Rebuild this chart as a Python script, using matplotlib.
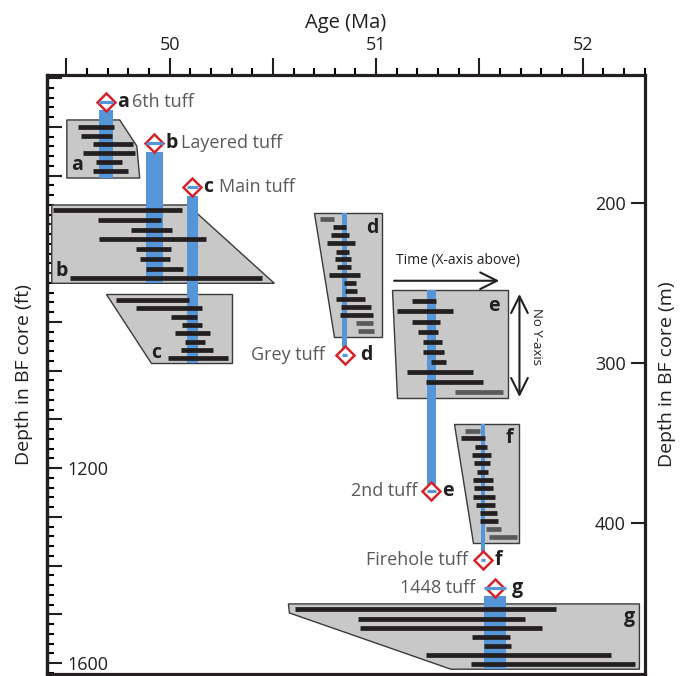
import matplotlib
matplotlib.use('Agg')
import matplotlib.pyplot as plt
import numpy as np
from matplotlib.patches import Polygon
from matplotlib.ticker import MultipleLocator, FuncFormatter

plt.rcParams['font.family'] = ['Open Sans', 'DejaVu Sans']

# ---------------- data ----------------
tuff_ids = ['a', 'b', 'c', 'd', 'e', 'f', 'g']
tuff_names = ['6th tuff', 'Layered tuff', 'Main tuff', 'Grey tuff', '2nd tuff', 'Firehole tuff', '1448 tuff']
tuff_age = [49.691, 49.925, 50.109, 50.847, 51.268, 51.517, 51.575]     # Ma
tuff_err = [0.034, 0.041, 0.027, 0.012, 0.022, 0.010, 0.053]            # Ma
tuff_depth = [136.9, 162.5, 190.0, 295.0, 380.0, 423.1, 440.6]          # m
col_top = [141.9, 168.1, 195.6, 206.1, 254.4, 338.1, 445.6]             # m
col_bottom = [184.4, 250.2, 299.8, 295.0, 380.0, 423.1, 491.4]          # m

box_a_age = [49.502, 49.758, 49.841, 49.855, 49.502]
box_a_depth = [148.1, 148.1, 164.4, 184.4, 184.4]
box_b_age = [49.429, 50.088, 50.507, 49.429]
box_b_depth = [201.25, 201.25, 250.2, 250.2]
box_c_age = [49.694, 50.303, 50.303, 49.912]
box_c_depth = [257.1, 257.1, 299.8, 299.8]
box_d_age = [50.700, 51.028, 51.028, 50.797]
box_d_depth = [206.1, 206.1, 283.9, 283.9]
box_e_age = [51.079, 51.639, 51.639, 51.101]
box_e_depth = [254.4, 254.4, 322.1, 322.1]
box_f_age = [51.377, 51.691, 51.691, 51.470]
box_f_depth = [338.1, 338.1, 412.7, 412.7]
box_g_age = [50.575, 52.275, 52.275, 51.362, 50.580]
box_g_depth = [450.6, 450.6, 491.4, 491.4, 456.25]

bars_a_depth = [152.3, 157.9, 163.3, 168.9, 174.6, 180.0]
bars_a_lo = [49.557, 49.569, 49.627, 49.578, 49.643, 49.629]
bars_a_hi = [49.729, 49.723, 49.823, 49.834, 49.771, 49.799]
bars_a_gray = [0, 0, 0, 0, 0, 0]

bars_b_depth = [204.4, 210.6, 216.7, 222.7, 228.9, 235.0, 241.1, 247.1]
bars_b_lo = [49.433, 49.651, 49.815, 49.658, 49.839, 49.858, 49.884, 49.517]
bars_b_hi = [50.061, 49.957, 50.013, 50.174, 50.005, 50.000, 50.064, 50.446]
bars_b_gray = [0, 0, 0, 0, 0, 0, 0, 0]

bars_c_depth = [260.6, 265.8, 271.1, 276.3, 281.4, 286.7, 291.7, 296.7]
bars_c_lo = [49.739, 49.839, 50.008, 50.059, 50.024, 50.072, 50.057, 49.992]
bars_c_hi = [50.093, 50.155, 50.134, 50.158, 50.197, 50.171, 50.211, 50.282]
bars_c_gray = [0, 0, 0, 0, 0, 0, 0, 0]

bars_d_depth = [210.2, 214.8, 219.8, 225.2, 230.4, 235.2, 240.2, 245.2, 250.2, 255.0,
                260.2, 265.2, 270.2, 275.2, 280.2]
bars_d_lo = [50.728, 50.789, 50.779, 50.762, 50.805, 50.802, 50.808, 50.770, 50.842, 50.850,
             50.805, 50.829, 50.825, 50.902, 50.914]
bars_d_hi = [50.797, 50.853, 50.869, 50.899, 50.870, 50.878, 50.878, 50.920, 50.902, 50.905,
             50.947, 50.974, 50.986, 50.986, 50.990]
bars_d_gray = [1, 0, 0, 0, 0, 0, 0, 0, 0, 0, 0, 0, 0, 1, 1]

bars_e_depth = [261.25, 267.5, 274.2, 280.4, 286.7, 292.9, 299.2, 305.4, 311.7, 317.9]
bars_e_lo = [51.175, 51.103, 51.175, 51.204, 51.227, 51.227, 51.264, 51.148, 51.240, 51.380]
bars_e_hi = [51.288, 51.372, 51.308, 51.301, 51.320, 51.329, 51.340, 51.470, 51.517, 51.614]
bars_e_gray = [0, 0, 0, 0, 0, 0, 0, 0, 0, 1]

bars_f_depth = [342.3, 347.1, 352.5, 357.3, 362.5, 367.9, 373.3, 378.3, 383.6, 388.6,
                393.75, 398.75, 403.9, 408.9]
bars_f_lo = [51.430, 51.412, 51.477, 51.462, 51.473, 51.486, 51.469, 51.472, 51.469, 51.483,
             51.502, 51.502, 51.530, 51.546]
bars_f_hi = [51.502, 51.525, 51.538, 51.557, 51.551, 51.541, 51.567, 51.567, 51.575, 51.575,
             51.586, 51.591, 51.605, 51.680]
bars_f_gray = [1, 0, 0, 0, 0, 0, 0, 0, 0, 0, 0, 0, 1, 1]

bars_g_depth = [453.9, 459.8, 465.4, 471.1, 476.7, 482.3, 487.9]
bars_g_lo = [50.609, 50.914, 50.923, 51.462, 51.520, 51.243, 51.457]
bars_g_hi = [51.871, 51.723, 51.803, 51.647, 51.651, 52.139, 52.255]
bars_g_gray = [0, 0, 0, 0, 0, 0, 0]

ft_labels = [1200, 1600]
m_ticks = [200, 300, 400]
age_labels = [50, 51, 52]

# ---------------- styling ----------------
BLUE = '#5596d8'
RED = '#d2232a'
BOXFILL = '#c8c8c8'
BOXEDGE = '#3a3a3a'
BLACK = '#231f20'
DARKGRAY = '#58595b'
BARGRAY = '#5a5a5a'

fig = plt.figure(figsize=(6.86, 6.76), dpi=100)
ax = fig.add_axes([47 / 686, 2 / 676, 598 / 686, 599 / 676])
ax.set_xlim(49.406, 52.302)
ax.set_ylim(494.4, 120)

boxes = [
    ('a', box_a_age, box_a_depth, bars_a_depth, bars_a_lo, bars_a_hi, bars_a_gray),
    ('b', box_b_age, box_b_depth, bars_b_depth, bars_b_lo, bars_b_hi, bars_b_gray),
    ('c', box_c_age, box_c_depth, bars_c_depth, bars_c_lo, bars_c_hi, bars_c_gray),
    ('d', box_d_age, box_d_depth, bars_d_depth, bars_d_lo, bars_d_hi, bars_d_gray),
    ('e', box_e_age, box_e_depth, bars_e_depth, bars_e_lo, bars_e_hi, bars_e_gray),
    ('f', box_f_age, box_f_depth, bars_f_depth, bars_f_lo, bars_f_hi, bars_f_gray),
    ('g', box_g_age, box_g_depth, bars_g_depth, bars_g_lo, bars_g_hi, bars_g_gray),
]

# polygons
for key, bage, bdep, *_ in boxes:
    ax.add_patch(Polygon(np.column_stack([bage, bdep]), closed=True, fc=BOXFILL,
                         ec=BOXEDGE, lw=1.0, zorder=3))

# blue columns
t_age = np.array(tuff_age)
t_err = np.array(tuff_err)
ax.bar(t_age, np.array(col_bottom) - np.array(col_top), bottom=col_top, width=2 * t_err,
       color=BLUE, zorder=4, linewidth=0)

# black / gray bars
for key, bage, bdep, d, lo, hi, gray in boxes:
    cols = [BARGRAY if g else BLACK for g in gray]
    ax.hlines(d, lo, hi, colors=cols, lw=3.4, zorder=5, capstyle='butt')

# tuff diamonds
ax.plot(t_age, tuff_depth, ls='none', marker='D', ms=8.8, mfc='white', mec=RED, mew=1.8, zorder=6)
ax.hlines(tuff_depth, t_age - t_err, t_age + t_err, colors=BLUE, lw=2.3, zorder=7)

# tuff labels (layout offsets in points)
letter_dx = [8, 8, 8, 11, 8, 8.5, 12]
name_dx = [19, 19, 19, -14, -10, -11, -14]
for i, tid in enumerate(tuff_ids):
    ax.annotate(tid, (tuff_age[i], tuff_depth[i]), xytext=(letter_dx[i], 0),
                textcoords='offset points', ha='left', va='center', fontsize=14,
                fontweight='bold', color=BLACK, zorder=8)
    ax.annotate(tuff_names[i], (tuff_age[i], tuff_depth[i]), xytext=(name_dx[i], 0),
                textcoords='offset points', ha='left' if name_dx[i] > 0 else 'right',
                va='center', fontsize=13, color=DARKGRAY, zorder=8)

# box letters: (corner index, dx pt, dy pt, ha, va)
box_label_layout = {
    'a': (4, 3, 2, 'left', 'bottom'),
    'b': (3, 3, 2, 'left', 'bottom'),
    'c': (3, 0, 0, 'left', 'bottom'),
    'd': (1, -2.5, -4, 'right', 'top'),
    'e': (1, -6, -4, 'right', 'top'),
    'f': (1, -4, -3, 'right', 'top'),
    'g': (1, -3, -2, 'right', 'top'),
}
for key, bage, bdep, *_ in boxes:
    idx, dx, dy, ha, va = box_label_layout[key]
    ax.annotate(key, (bage[idx], bdep[idx]), xytext=(dx, dy), textcoords='offset points',
                ha=ha, va=va, fontsize=14, fontweight='bold', color=BLACK, zorder=8)

# explanatory arrows
ax.annotate('', xy=(51.596, 248.6), xytext=(51.087, 248.6),
            arrowprops=dict(arrowstyle='->,head_length=0.6,head_width=0.3', lw=1.5,
                            color=BLACK, mutation_scale=20, shrinkA=0, shrinkB=0), zorder=8)
ax.text(51.396, 236.1, 'Time (X-axis above)', ha='center', va='center', fontsize=10,
        color=BLACK)
ax.annotate('', xy=(51.694, 256.9), xytext=(51.694, 321.25),
            arrowprops=dict(arrowstyle='<->,head_length=0.6,head_width=0.3', lw=1.5,
                            color=BLACK, mutation_scale=20, shrinkA=0, shrinkB=0), zorder=8)
ax.text(51.778, 283.75, 'No Y-axis', rotation=270, ha='center', va='center', fontsize=9.5,
        color=BLACK)

# ---------------- axes ----------------
for sp in ax.spines.values():
    sp.set_linewidth(2.3)
    sp.set_color(BLACK)

ax.xaxis.tick_top()
ax.xaxis.set_label_position('top')
ax.xaxis.set_major_locator(MultipleLocator(0.5))
ax.xaxis.set_minor_locator(MultipleLocator(0.1))
ax.xaxis.set_major_formatter(FuncFormatter(
    lambda v, p: f'{int(round(v))}' if any(abs(v - a) < 1e-6 for a in age_labels) else ''))
ax.tick_params(axis='x', which='major', direction='out', length=12, width=1.5, pad=3,
               labelsize=13, colors=BLACK)
ax.tick_params(axis='x', which='minor', direction='out', length=5, width=1.5)
ax.set_xlabel('Age (Ma)', fontsize=14.5, labelpad=6, color=BLACK)

ax.yaxis.tick_right()
ax.yaxis.set_label_position('right')
ax.set_yticks(m_ticks)
ax.tick_params(axis='y', which='major', direction='in', length=10, width=1.5, pad=-14,
               labelsize=13, colors=BLACK)
ax.set_ylabel('Depth in BF core (m)', fontsize=14, color=BLACK)
ax.yaxis.set_label_coords(1.037, 0.5)
ax.yaxis.label.set_va('center')
ax.yaxis.label.set_rotation(90)

sec = ax.secondary_yaxis('left', functions=(lambda m: m / 0.3048, lambda f: f * 0.3048))
sec.spines['left'].set_linewidth(2.3)
sec.yaxis.set_major_locator(MultipleLocator(100))
sec.yaxis.set_minor_locator(MultipleLocator(20))
sec.yaxis.set_major_formatter(FuncFormatter(
    lambda v, p: f'{int(round(v))}' if any(abs(v - a) < 1e-6 for a in ft_labels) else ''))
sec.tick_params(axis='y', which='major', direction='in', length=11, width=1.5, pad=-15,
                labelsize=13, colors=BLACK)
sec.tick_params(axis='y', which='minor', direction='in', length=5, width=1.5)
ax.text(-0.0385, 0.5, 'Depth in BF core (ft)', transform=ax.transAxes, rotation=90,
        ha='center', va='center', fontsize=14, color=BLACK, clip_on=False)

fig.canvas.draw()
for t in sec.yaxis.get_major_ticks():
    t.label1.set_horizontalalignment('left')
for t in ax.yaxis.get_major_ticks():
    t.label2.set_horizontalalignment('right')

fig.savefig('out.png', dpi=100)
